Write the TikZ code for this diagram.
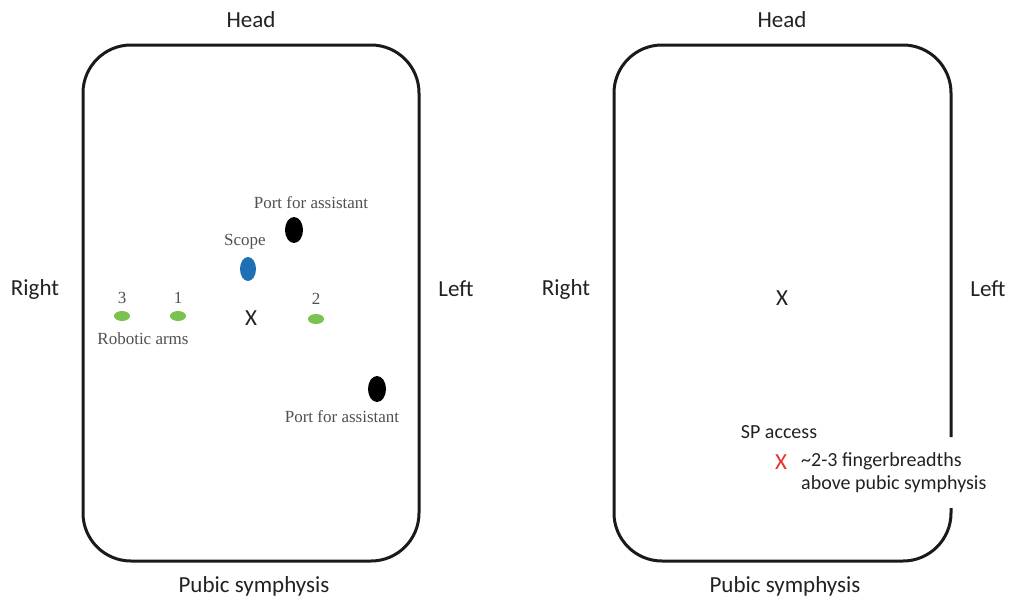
\documentclass[tikz,border=0pt]{standalone}
\usepackage{fontspec}
\setmainfont{Carlito}
\newfontfamily\serifl{Liberation Serif}
\usetikzlibrary{shapes.geometric}
\definecolor{armgreen}{HTML}{7CC24F}
\definecolor{scopeblue}{HTML}{1F6FB5}
\definecolor{xred}{HTML}{E8302A}
\definecolor{lblgray}{HTML}{505050}
\definecolor{txtdark}{HTML}{222222}
\definecolor{boxline}{HTML}{1A1A1A}
\begin{document}
\begin{tikzpicture}[x=1pt,y=-1pt,
  hdr/.style={text=txtdark,font=\fontsize{23}{27}\selectfont,inner sep=0pt},
  sans/.style={text=txtdark,font=\fontsize{20}{24}\selectfont,inner sep=0pt},
  bigx/.style={text=txtdark,font=\fontsize{23}{27}\selectfont,inner sep=0pt},
  lbl/.style={text=lblgray,font=\serifl\fontsize{17}{20}\selectfont,inner sep=0pt},
  port/.style={ellipse,fill=black,minimum width=18pt,minimum height=26pt,inner sep=0pt},
  scopedot/.style={ellipse,fill=scopeblue,minimum width=16pt,minimum height=24pt,inner sep=0pt},
  arm/.style={ellipse,fill=armgreen,minimum width=16pt,minimum height=10pt,inner sep=0pt},
  bodybox/.style={draw=boxline,line width=3pt,rounded corners=48pt}]
\useasboundingbox (0,0) rectangle (1009,600);
% left panel
\draw[bodybox] (83,45) rectangle (419,561);
\node[hdr] (headL) at (251,20) {Head};
\node[hdr] (pubL) at (254,586) {Pubic symphysis};
\node[hdr] (rightL) at (35,289) {Right};
\node[hdr] (leftL) at (456,289) {Left};
\node[lbl] (portTlbl) at (311,203) {Port for assistant};
\node[port] (portT) at (294,230) {};
\node[lbl] (scopelbl) at (245,242) {Scope};
\node[scopedot] (scope) at (248,269) {};
\node[lbl] (n3) at (122,298) {3};
\node[lbl] (n1) at (178,298) {1};
\node[lbl] (n2) at (316,299) {2};
\node[arm] (arm3) at (122,316) {};
\node[arm] (arm1) at (178,316) {};
\node[arm] (arm2) at (316,319) {};
\node[bigx] (xL) at (251,318) {X};
\node[lbl] (armslbl) at (143,339) {Robotic arms};
\node[port] (portB) at (377,389) {};
\node[lbl] (portBlbl) at (342,417) {Port for assistant};
% right panel
\draw[boxline,line width=3pt,rounded corners=48pt]
  (951,508) -- (951,561) -- (614,561) -- (614,45) -- (951,45) -- (951,437);
\node[hdr] (headR) at (782,20) {Head};
\node[hdr] (pubR) at (785,586) {Pubic symphysis};
\node[hdr] (rightR) at (566,289) {Right};
\node[hdr] (leftR) at (988,289) {Left};
\node[bigx] (xR) at (782,298) {X};
\node[sans] (splbl) at (779,432) {SP access};
\node[bigx,text=xred] (xSP) at (781,462) {X};
\node[sans,anchor=west,align=left,font=\fontsize{20}{23}\selectfont] (fb) at (801,473) {\textasciitilde 2-3 fingerbreadths\\above pubic symphysis};
\end{tikzpicture}
\end{document}
